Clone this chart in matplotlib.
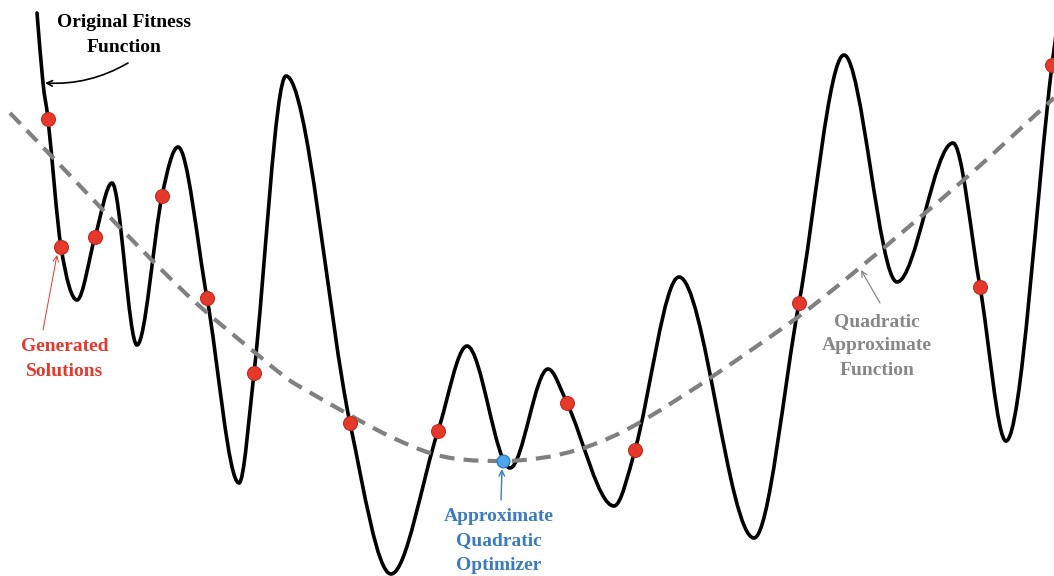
import numpy as np
import matplotlib
matplotlib.use('Agg')
import matplotlib.pyplot as plt
from matplotlib.path import Path
from matplotlib.patches import PathPatch

# turning points of the fitness landscape (x, fitness)
extrema_x = [37, 43, 77, 112, 137, 178, 239, 286, 391, 467, 510, 548, 614, 679, 754, 844, 897, 953, 1006, 1056]
extrema_y = [563, 493, 276, 393, 231, 429, 93, 500, 2, 230, 108, 207, 70, 299, 38, 521, 294, 433, 135, 541]

# sampled solutions, all lying on the fitness curve
solutions_x = [48, 61, 95, 162, 207, 254, 350, 438, 567, 635, 799, 980, 1052]
solutions_y = [457, 329, 339, 380, 278, 203, 153, 145, 173, 126, 273, 289, 511]

# quadratic surrogate fitted to the solutions
quad_x = [10, 180, 264, 297, 424, 503, 577, 644, 787, 857, 967, 1054]
quad_y = [463, 288, 216, 191, 125, 115, 126, 156, 251, 306, 399, 478]

optimizer_x = 503
optimizer_y = 115

RED = '#e5392c'
BLUE = '#3b7bc4'
GRAY = '#878787'


def smooth_path(xs, ys):
    # cubic hermite through the knots, flat tangents at local extrema
    order = np.argsort(xs)
    xs = np.asarray(xs, float)[order]
    ys = np.asarray(ys, float)[order]
    n = len(xs)
    m = np.zeros(n)
    for i in range(n):
        if i == 0:
            m[i] = (ys[1] - ys[0]) / (xs[1] - xs[0])
        elif i == n - 1:
            m[i] = (ys[-1] - ys[-2]) / (xs[-1] - xs[-2])
        elif (ys[i] - ys[i-1]) * (ys[i+1] - ys[i]) <= 0:
            m[i] = 0.0
        else:
            m[i] = (ys[i+1] - ys[i-1]) / (xs[i+1] - xs[i-1])
    verts = [(xs[0], ys[0])]
    codes = [Path.MOVETO]
    for i in range(n - 1):
        dx = xs[i+1] - xs[i]
        verts += [(xs[i] + dx/3, ys[i] + m[i]*dx/3),
                  (xs[i+1] - dx/3, ys[i+1] - m[i+1]*dx/3),
                  (xs[i+1], ys[i+1])]
        codes += [Path.CURVE4] * 3
    return Path(verts, codes)


plt.rcParams['font.family'] = ['Liberation Serif', 'DejaVu Serif']

fig = plt.figure(figsize=(10.54, 5.76), dpi=100)
ax = fig.add_axes([0, 0, 1, 1])
ax.set_xlim(0, 1054)
ax.set_ylim(0, 576)
ax.axis('off')

curve_x = extrema_x + solutions_x
curve_y = extrema_y + solutions_y
ax.add_patch(PathPatch(smooth_path(curve_x, curve_y), fill=False, lw=2.6,
                       ec='black', capstyle='round', zorder=2))

ax.add_patch(PathPatch(smooth_path(quad_x, quad_y), fill=False, lw=3.0,
                       ec='#808080', linestyle=(0, (3.6, 2.2)), zorder=3))

ax.scatter(solutions_x, solutions_y, s=100, c=RED, edgecolors='#c22a1f',
           linewidths=0.8, zorder=4)
ax.scatter([optimizer_x], [optimizer_y], s=85, c='#4ea7ec', edgecolors='#2f78c0',
           linewidths=0.9, zorder=5)

txt = dict(ha='center', va='center', fontsize=14, fontweight='bold', linespacing=1.6)

ax.text(124, 541, 'Original Fitness\nFunction', color='black', **txt)
ax.annotate('', xy=(45, 493), xytext=(128, 513),
            arrowprops=dict(arrowstyle='->', color='black', lw=1.2,
                            connectionstyle='arc3,rad=-0.15', shrinkA=0, shrinkB=0))

ax.text(65, 217, 'Generated\nSolutions', color=RED, **txt)
ax.annotate('', xy=(57, 321), xytext=(43, 246),
            arrowprops=dict(arrowstyle='->', color=RED, lw=0.7,
                            shrinkA=0, shrinkB=0))

ax.text(499, 35, 'Approximate\nQuadratic\nOptimizer', color=BLUE, **txt)
ax.annotate('', xy=(502, 107), xytext=(501, 76),
            arrowprops=dict(arrowstyle='->', color=BLUE, lw=1.0,
                            shrinkA=0, shrinkB=0))

ax.text(877, 230, 'Quadratic\nApproximate\nFunction', color=GRAY, **txt)
ax.annotate('', xy=(861, 306), xytext=(880, 273),
            arrowprops=dict(arrowstyle='->', color=GRAY, lw=0.9,
                            shrinkA=0, shrinkB=0))

fig.savefig('out.png', dpi=100)
